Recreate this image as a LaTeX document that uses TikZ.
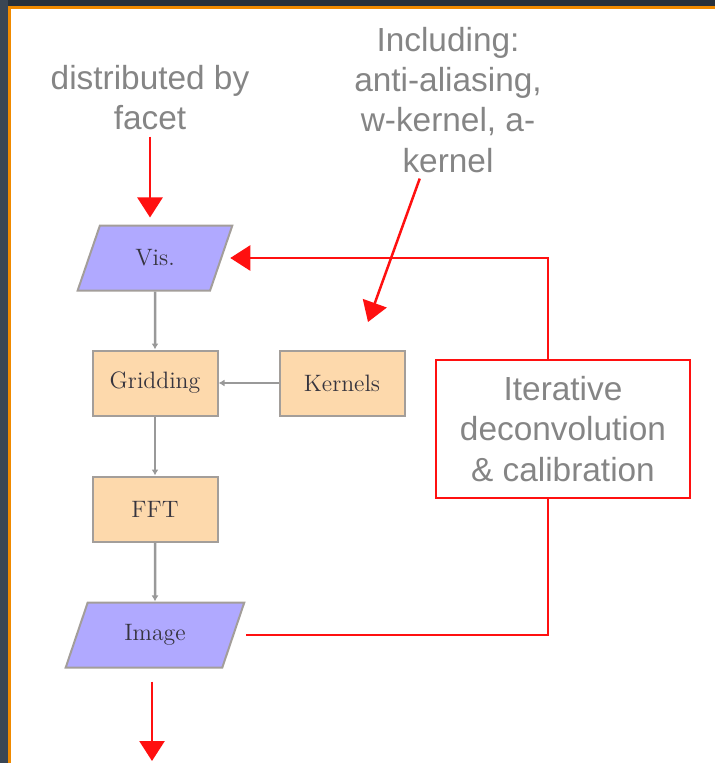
\documentclass[tikz,border=0pt]{standalone}
\usepackage{fontspec}
\newfontfamily\hand{Liberation Sans}
\usetikzlibrary{shapes.geometric,arrows.meta}

\definecolor{framedark}{HTML}{27303A}
\definecolor{frameside}{HTML}{3A4654}
\definecolor{frameorange}{HTML}{F08A00}
\definecolor{procfill}{HTML}{FDD9AC}
\definecolor{datafill}{HTML}{B0A9FF}
\definecolor{boxgray}{HTML}{A39E9A}
\definecolor{linegray}{HTML}{999999}
\definecolor{nodetext}{HTML}{36343E}
\definecolor{notegray}{HTML}{858585}
\definecolor{loopred}{HTML}{FF1010}

\tikzset{
  proc/.style={draw=boxgray, fill=procfill, line width=0.4mm, minimum width=25mm, minimum height=13mm, text=nodetext, font=\fontsize{13.5}{16}\selectfont},
  data/.style={trapezium, trapezium left angle=70, trapezium right angle=110, trapezium stretches=true, draw=boxgray, fill=datafill, line width=0.4mm, minimum height=13mm, text=nodetext, font=\fontsize{13.5}{16}\selectfont},
  note/.style={text=notegray, font=\hand\fontsize{19}{22.8}\selectfont, align=center},
  redbox/.style={note, draw=loopred, line width=0.5mm, minimum width=50.8mm, minimum height=27.6mm},
  flow/.style={draw=linegray, line width=0.5mm, -{Latex[length=1.2mm,width=1.4mm]}},
  redarrow/.style={draw=loopred, line width=0.5mm, -{Triangle[length=4mm,width=5mm]}},
  redline/.style={draw=loopred, line width=0.5mm}
}

\begin{document}
\begin{tikzpicture}[x=0.2mm, y=-0.2mm]
  \useasboundingbox (0,0) rectangle (715,763);
  % frame
  \fill[framedark] (0,0) rectangle (715,6);
  \fill[frameside] (0,0) rectangle (8,763);
  \fill[frameorange] (8,6) rectangle (715,8.5);
  \fill[frameorange] (8,6) rectangle (10.5,763);

  % flow chart
  \node[data, minimum width=31mm] (vis) at (155,258) {Vis.};
  \node[proc] (grid) at (155,383) {Gridding};
  \node[proc] (kern) at (342,383) {Kernels};
  \node[proc] (fft) at (155,509) {FFT};
  \node[data, minimum width=35.8mm] (img) at (155,635) {Image};

  \draw[flow] (vis) -- (grid);
  \draw[flow] (kern) -- (grid);
  \draw[flow] (grid) -- (fft);
  \draw[flow] (fft) -- (img);

  % notes
  \node[note] (dist) at (150,98) {distributed by\\facet};
  \node[note] (incl) at (448,100) {Including:\\anti-aliasing,\\w-kernel, a-\\kernel};
  \node[redbox] (calib) at (563,429) {Iterative\\deconvolution\\\& calibration};

  \coordinate (loopx) at (548,0);
  \coordinate (kn) at (368,322);
  \coordinate (out) at (152,761);

  \draw[redarrow, shorten >=1.4mm] (dist) -- (dist |- vis.north);
  \draw[redarrow] (incl) -- (kn);
  \draw[redarrow, shorten >=1.6mm] (calib.north -| loopx) |- (vis.east);
  \draw[redline, shorten <=2.4mm] (img.east) -| (calib.south -| loopx);
  \draw[redarrow, shorten <=2.6mm] (img.south -| out) -- (out);
\end{tikzpicture}
\end{document}
